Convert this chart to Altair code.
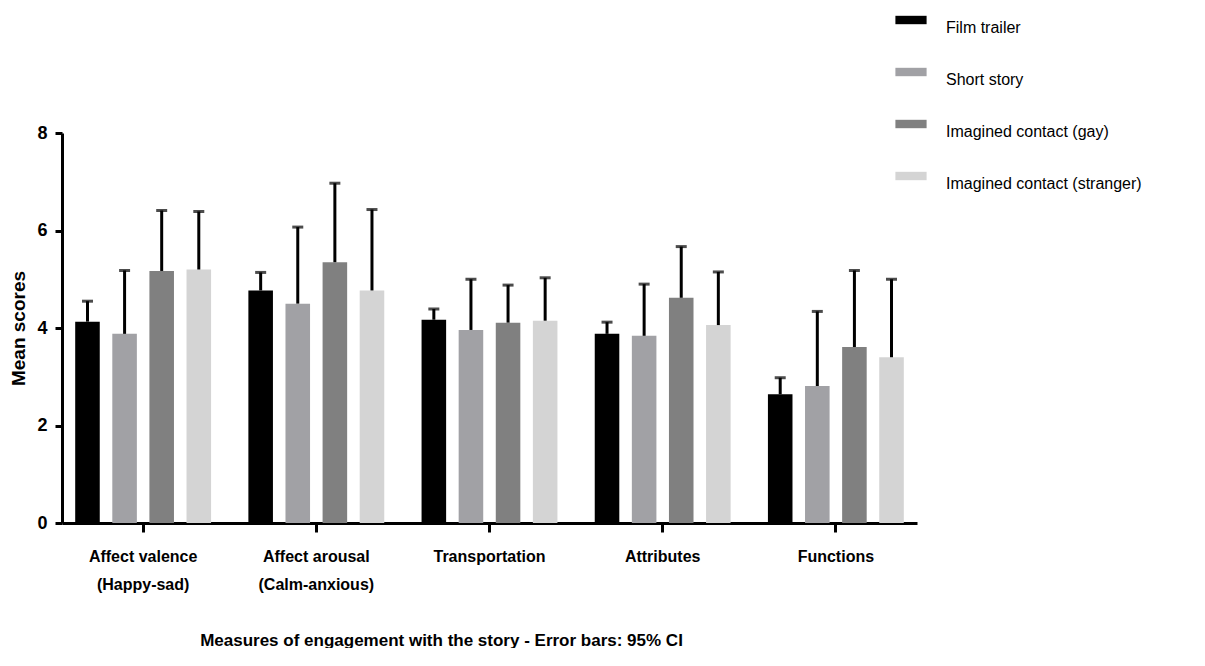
import altair as alt
import pandas as pd

measures = ["Affect valence (Happy-sad)", "Affect arousal (Calm-anxious)",
            "Transportation", "Attributes", "Functions"]
conditions = ["Film trailer", "Short story", "Imagined contact (gay)",
              "Imagined contact (stranger)"]
colors = ["#000000", "#a1a1a5", "#808080", "#d4d4d4"]

film_trailer = [4.13, 4.77, 4.17, 3.88, 2.64]
film_trailer_upper = [4.55, 5.14, 4.39, 4.12, 2.98]
short_story = [3.88, 4.50, 3.96, 3.84, 2.81]
short_story_upper = [5.18, 6.07, 5.00, 4.90, 4.34]
contact_gay = [5.17, 5.35, 4.11, 4.62, 3.61]
contact_gay_upper = [6.41, 6.97, 4.88, 5.67, 5.18]
contact_stranger = [5.20, 4.77, 4.15, 4.06, 3.40]
contact_stranger_upper = [6.39, 6.43, 5.03, 5.15, 5.00]

means = [film_trailer, short_story, contact_gay, contact_stranger]
uppers = [film_trailer_upper, short_story_upper, contact_gay_upper, contact_stranger_upper]

rows = []
for ci, cond in enumerate(conditions):
    for mi, m in enumerate(measures):
        rows.append({"measure": m, "condition": cond,
                     "mean": means[ci][mi], "upper": uppers[ci][mi]})
df = pd.DataFrame(rows)

FONT = "Liberation Sans"

x = alt.X("measure:N", sort=measures,
          scale=alt.Scale(paddingInner=0.143, paddingOuter=0.04),
          axis=alt.Axis(
              title="Measures of engagement with the story - Error bars: 95% CI",
              labelAngle=0,
              labelExpr="indexof(datum.label,' (')>0 ? [substring(datum.label,0,indexof(datum.label,' (')), substring(datum.label,indexof(datum.label,' (')+1)] : datum.label",
              labelFont=FONT, labelFontSize=16, labelFontWeight="bold",
              labelColor="black", labelLineHeight=28, labelPadding=16,
              labelBaseline="top",
              tickSize=9, tickWidth=3, tickColor="black",
              domainWidth=3, domainColor="black",
              titleFont=FONT, titleFontSize=17, titleFontWeight="bold",
              titleColor="black", titleX=379, titleY=117,
              titleBaseline="middle", titleAnchor="middle", titleAlign="center"))
xoff = alt.XOffset("condition:N", sort=conditions,
                   scale=alt.Scale(paddingInner=0.338, paddingOuter=0.169))
y_axis = alt.Axis(values=[0, 2, 4, 6, 8], format="d", grid=False,
                  labelFont=FONT, labelFontSize=18, labelFontWeight="bold",
                  labelColor="black", labelPadding=8,
                  tickSize=7, tickWidth=3, tickColor="black",
                  domainWidth=3, domainColor="black",
                  title="Mean scores", titleFont=FONT, titleFontSize=19,
                  titleFontWeight="bold", titleColor="black",
                  titleX=-44, titleY=195, titleAnchor="middle",
                  titleBaseline="middle", titleAlign="center")
y = alt.Y("mean:Q", scale=alt.Scale(domain=[0, 8], nice=False), axis=y_axis)

color = alt.Color("condition:N", sort=conditions,
                  scale=alt.Scale(domain=conditions, range=colors),
                  legend=alt.Legend(title=None, orient="none",
                                    legendX=841, legendY=-121,
                                    symbolType="M-2.6,-0.7H2.6V0.7H-2.6Z",
                                    symbolSize=144, symbolStrokeWidth=0,
                                    symbolOpacity=1,
                                    labelFont=FONT, labelFontSize=16,
                                    labelColor="black", labelOffset=27,
                                    labelBaseline="top",
                                    rowPadding=28, padding=0,
                                    labelLimit=400))

base = alt.Chart(df)
bars = base.mark_bar(opacity=1).encode(x=x, xOffset=xoff, y=y, color=color)
err = base.mark_rule(color="black", strokeWidth=3).encode(
    x=x, xOffset=xoff, y=alt.Y("mean:Q"), y2="upper:Q")
caps = base.mark_tick(color="black", thickness=3, size=11, orient="horizontal").encode(
    x=x, xOffset=xoff, y=alt.Y("upper:Q"))

chart = alt.layer(bars, err, caps).properties(
    width=855, height=390,
    autosize=alt.AutoSizeParams(type="none"),
    padding={"left": 54, "top": 125, "right": 270, "bottom": 125},
    background="white",
).configure_view(stroke=None, strokeWidth=0)

chart.save("out.html", embed_options={"renderer": "svg", "actions": False})
